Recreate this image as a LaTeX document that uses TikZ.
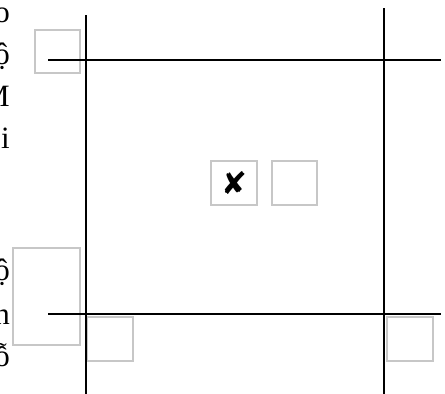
\documentclass[tikz,border=0pt]{standalone}
\usepackage{fontspec}
\setmainfont{Liberation Serif}
\newfontfamily\symfont{DejaVu Sans}
\begin{document}
\begin{tikzpicture}[x=1pt,y=-1pt,
  gridline/.style={line width=1.7pt,black},
  greybox/.style={draw=black!22,line width=1.4pt,rectangle,inner sep=0pt,outer sep=0pt},
  sidetext/.style={anchor=base east,inner sep=0pt,font=\fontsize{31}{31}\selectfont}]
\useasboundingbox (0,0) rectangle (445,394);
% grey boxes
\node[greybox,minimum width=45pt,minimum height=43pt] (boxA) at (57.5,51.5) {};
\node[greybox,minimum width=67pt,minimum height=97pt] (boxB) at (46.5,296.5) {};
\node[greybox,minimum width=46pt,minimum height=44pt] (boxC) at (110,339) {};
\node[greybox,minimum width=46pt,minimum height=44pt] (boxD) at (410,339) {};
\node[greybox,minimum width=46pt,minimum height=44pt,font=\symfont\fontsize{31}{31}\selectfont] (boxE) at (234,183) {✘};
\node[greybox,minimum width=45pt,minimum height=44pt] (boxF) at (294.5,183) {};
% grid lines
\coordinate (vLa) at (86,15);
\coordinate (vLb) at (86,394);
\coordinate (vRa) at (384,8);
\coordinate (vRb) at (384,394);
\coordinate (hTa) at (48,60);
\coordinate (hTb) at (441,60);
\coordinate (hBa) at (48,314);
\coordinate (hBb) at (441,314);
\draw[gridline] (vLa) -- (vLb);
\draw[gridline] (vRa) -- (vRb);
\draw[gridline] (hTa) -- (hTb);
\draw[gridline] (hBa) -- (hBb);
% side text, cut by the left edge as in the reference
\node[sidetext] (t1) at (10,22) {o};
\node[sidetext] (t2) at (10,64) {ộ};
\node[sidetext] (t3) at (10,106) {M};
\node[sidetext] (t4) at (10,148) {i};
\node[sidetext] (t5) at (10,280) {ộ};
\node[sidetext] (t6) at (10,324) {n};
\node[sidetext] (t7) at (10,366) {ỗ};
\end{tikzpicture}
\end{document}
